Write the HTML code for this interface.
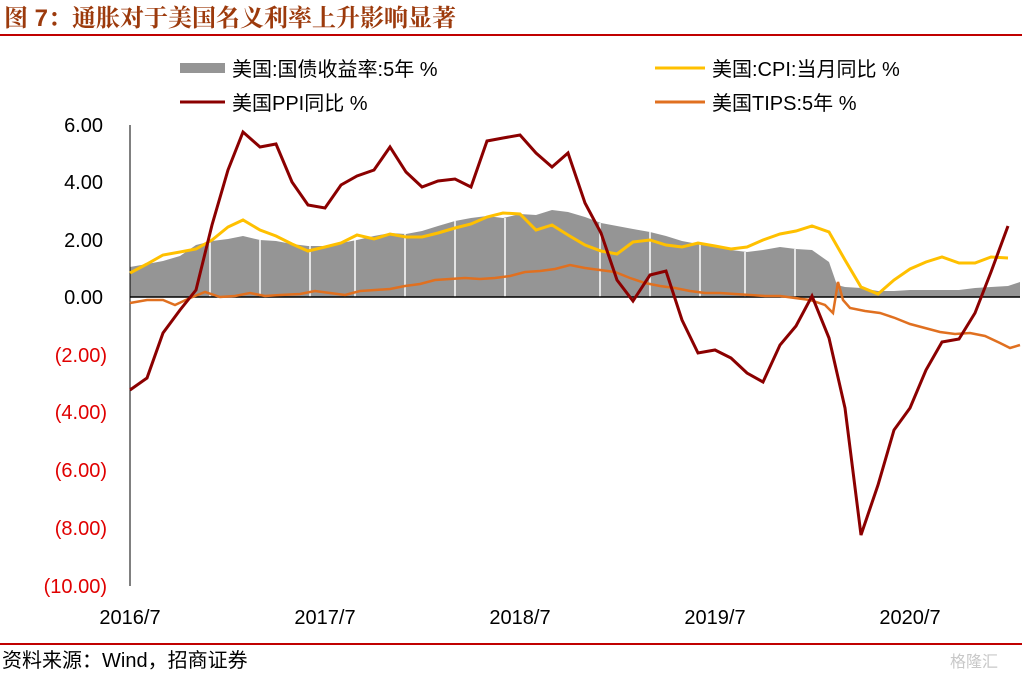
<!DOCTYPE html>
<html><head><meta charset="utf-8"><style>
body{margin:0;background:#fff;}
svg text{font-family:"Liberation Sans","Noto Sans CJK SC",sans-serif;}
</style></head><body>
<svg width="1022" height="673" viewBox="0 0 1022 673" xmlns="http://www.w3.org/2000/svg">
<text x="4" y="26" font-size="24" font-weight="bold" fill="#9c3a0c" style="font-family:'Liberation Sans','Noto Serif CJK SC',serif">图 7：通胀对于美国名义利率上升影响显著</text>
<rect x="0" y="34" width="1022" height="2" fill="#c00000"/>
<!-- legend -->
<rect x="180" y="63" width="45" height="10" fill="#959595"/>
<text x="232" y="76" font-size="20" fill="#000">美国:国债收益率:5年 %</text>
<line x1="655" y1="68" x2="705" y2="68" stroke="#ffc000" stroke-width="3"/>
<text x="712" y="76" font-size="20" fill="#000">美国:CPI:当月同比 %</text>
<line x1="180" y1="102" x2="225" y2="102" stroke="#8b0000" stroke-width="3"/>
<text x="232" y="110" font-size="20" fill="#000">美国PPI同比 %</text>
<line x1="655" y1="102" x2="705" y2="102" stroke="#e07020" stroke-width="3"/>
<text x="712" y="110" font-size="20" fill="#000">美国TIPS:5年 %</text>
<!-- y axis labels -->
<g font-size="20" text-anchor="end">
<text x="103" y="132" fill="#000">6.00</text>
<text x="103" y="189" fill="#000">4.00</text>
<text x="103" y="247" fill="#000">2.00</text>
<text x="103" y="304" fill="#000">0.00</text>
<text x="107" y="362" fill="#e00000">(2.00)</text>
<text x="107" y="419" fill="#e00000">(4.00)</text>
<text x="107" y="477" fill="#e00000">(6.00)</text>
<text x="107" y="535" fill="#e00000">(8.00)</text>
<text x="107" y="593" fill="#e00000">(10.00)</text>
</g>
<g font-size="20" text-anchor="middle" fill="#000">
<text x="130" y="624">2016/7</text>
<text x="325" y="624">2017/7</text>
<text x="520" y="624">2018/7</text>
<text x="715" y="624">2019/7</text>
<text x="910" y="624">2020/7</text>
</g>
<!-- gray area -->
<polygon fill="#959595" points="130,297 130,267 147,264 163,261 180,256 196,245 212,241 228,239 243,236 260,240 276,241 292,244 308,246 325,246 341,243 357,240 374,236 390,233 406,234 422,231 438,226 455,221 471,218 487,216 503,218 520,214 536,215 552,210 568,212 585,217 601,223 617,226 633,229 650,232 666,236 682,241 698,244 715,247 731,250 747,252 763,250 780,247 796,249 812,250 829,262 837,285 845,287 861,288 878,291 894,291 910,290 926,290 942,290 959,290 975,288 991,287 1008,286 1020,282 1020,297"/>
<g stroke="#fff" stroke-width="1.5">
<line x1="210" y1="240" x2="210" y2="297"/><line x1="260" y1="240" x2="260" y2="297"/><line x1="310" y1="246" x2="310" y2="297"/><line x1="355" y1="240" x2="355" y2="297"/><line x1="405" y1="234" x2="405" y2="297"/><line x1="455" y1="221" x2="455" y2="297"/><line x1="505" y1="218" x2="505" y2="297"/><line x1="600" y1="223" x2="600" y2="297"/><line x1="650" y1="232" x2="650" y2="297"/><line x1="700" y1="244" x2="700" y2="297"/><line x1="745" y1="252" x2="745" y2="297"/><line x1="795" y1="249" x2="795" y2="297"/>
</g>
<line x1="130" y1="297" x2="1020" y2="297" stroke="#000" stroke-width="1.5"/>
<line x1="130" y1="125" x2="130" y2="586" stroke="#000" stroke-width="1"/>
<!-- TIPS -->
<polyline fill="none" stroke="#e07020" stroke-width="2.5" points="130,303 147,300 163,300 175,305 190,298 205,292 220,297 235,296 250,293 265,296 280,295 300,294 315,291 330,293 345,295 360,291 375,290 390,289 405,286 420,284 435,280 450,279 465,278 480,279 495,278 510,276 525,272 540,271 555,269 570,265 585,268 600,270 615,272 630,278 645,283 660,286 675,288 690,291 705,293 720,293 735,294 750,295 765,296 780,296 795,298 810,300 825,305 833,313 838,282 843,300 850,308 865,311 880,313 895,318 910,324 925,328 940,332 955,334 970,333 985,336 1000,343 1010,348 1020,345"/>
<!-- CPI -->
<polyline fill="none" stroke="#ffc000" stroke-width="3" points="130,273 147,264 163,255 180,252 196,249 212,240 228,227 243,220 260,230 276,236 292,244 308,251 325,247 341,243 357,235 374,239 390,234 406,237 422,237 438,233 455,228 471,224 487,217 503,213 520,214 536,230 552,225 568,235 585,245 601,251 617,254 633,242 650,240 666,245 682,247 698,243 715,246 731,249 747,247 763,240 780,234 796,231 812,226 829,232 845,260 861,287 878,294 894,280 910,269 926,262 942,257 959,263 975,263 991,257 1008,258"/>
<!-- PPI -->
<polyline fill="none" stroke="#8b0000" stroke-width="3" points="130,390 147,378 163,333 180,310 196,290 212,225 228,170 243,132 260,147 276,144 292,182 308,205 325,208 341,185 357,176 374,170 390,147 406,172 422,187 438,181 455,179 471,187 487,141 503,138 520,135 536,153 552,167 568,153 585,203 601,233 617,280 633,301 650,275 666,271 682,320 698,353 715,350 731,358 747,373 763,382 780,345 796,326 812,296 829,338 845,408 861,535 878,485 894,430 910,408 926,370 942,342 959,339 975,313 991,272 1008,226"/>
<rect x="0" y="643" width="1022" height="2" fill="#c00000"/>
<text x="2" y="667" font-size="20" fill="#000">资料来源：Wind，招商证券</text>
<text x="950" y="667" font-size="16" fill="#c8c8c8">格隆汇</text>
</svg>
</body></html>
